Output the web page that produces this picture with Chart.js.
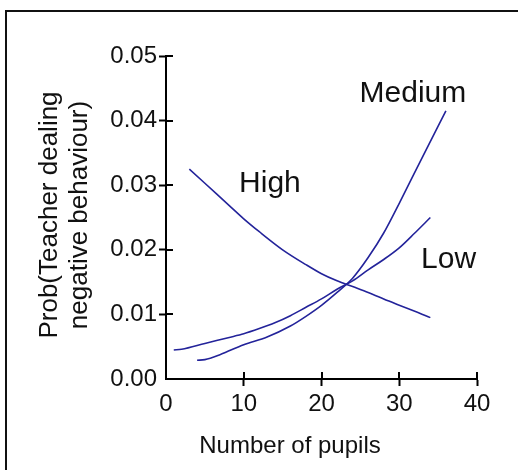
<!DOCTYPE html>
<html>
<head>
<meta charset="utf-8">
<script src="https://cdn.jsdelivr.net/npm/chart.js@4/dist/chart.umd.min.js"></script>
<style>
  html, body { margin: 0; padding: 0; background: #fff; }
  #chart { display: block; }
</style>
</head>
<body>
<canvas id="chart" width="518" height="470"></canvas>
<script>
// values (x = number of pupils, y = probability)
const highX = [3, 5, 8, 10, 12, 15, 18, 20, 22, 24, 26, 28, 30, 32, 34];
const highY = [0.0325, 0.0303, 0.0270, 0.0248, 0.0228, 0.0200, 0.0177, 0.0163, 0.0152, 0.0143, 0.0134, 0.0124, 0.0114, 0.0105, 0.0095];

const mediumX = [4, 5, 7, 10, 13, 16, 18, 20, 22, 24, 26, 28, 30, 33, 36];
const mediumY = [0.0029, 0.0030, 0.0038, 0.0053, 0.0065, 0.0082, 0.0097, 0.0114, 0.0134, 0.0156, 0.0188, 0.0226, 0.0272, 0.0344, 0.0415];

const lowX = [1, 2, 5, 8, 10, 12, 14, 16, 18, 20, 22, 24, 26, 28, 30, 32, 34];
const lowY = [0.0045, 0.0046, 0.0055, 0.0064, 0.0070, 0.0078, 0.0087, 0.0098, 0.0111, 0.0124, 0.0139, 0.0152, 0.0169, 0.0185, 0.0203, 0.0226, 0.0250];

const seriesNames = ['High', 'Medium', 'Low'];
const xTitle = 'Number of pupils';
const yTitle = ['Prob(Teacher dealing', 'negative behaviour)'];

const lineColor = '#23239a';
const font = 'Liberation Sans, Arial, sans-serif';

const toPoints = (xs, ys) => xs.map((x, i) => ({ x, y: ys[i] }));

const series = [
  { label: seriesNames[0], data: toPoints(highX, highY) },
  { label: seriesNames[1], data: toPoints(mediumX, mediumY) },
  { label: seriesNames[2], data: toPoints(lowX, lowY) }
];

// where each curve's name sits, in data units (left edge, baseline)
const nameSpots = [
  { x: 9.4, y: 0.0289 },
  { x: 24.9, y: 0.0429 },
  { x: 32.8, y: 0.0172 }
];

const hideZero = (ctx) => (ctx.tick && ctx.tick.value === 0 ? 'rgba(0,0,0,0)' : '#000');

const decorations = {
  id: 'decorations',
  beforeDraw(chart) {
    const c = chart.ctx;
    c.save();
    c.strokeStyle = '#111';
    c.lineWidth = 2;
    c.strokeRect(6, 11, 700, 700);
    c.restore();
  },
  afterDraw(chart) {
    const c = chart.ctx;
    const xs = chart.scales.x;
    const ys = chart.scales.y;
    c.save();

    // inner half of the tick marks (they cross the axes)
    c.strokeStyle = '#000';
    c.lineWidth = 2;
    c.beginPath();
    ys.ticks.forEach((t) => {
      if (t.value === 0) return;
      const py = Math.round(ys.getPixelForValue(t.value));
      c.moveTo(xs.left, py);
      c.lineTo(xs.left + 7, py);
    });
    xs.ticks.forEach((t) => {
      if (t.value === 0) return;
      const px = Math.round(xs.getPixelForValue(t.value));
      c.moveTo(px, ys.bottom);
      c.lineTo(px, ys.bottom - 7);
    });
    c.stroke();

    c.fillStyle = '#111';
    c.textBaseline = 'alphabetic';

    // curve names
    c.font = '30px ' + font;
    c.textAlign = 'left';
    series.forEach((s, i) => {
      c.fillText(s.label, xs.getPixelForValue(nameSpots[i].x), ys.getPixelForValue(nameSpots[i].y));
    });

    // x title
    c.font = '24px ' + font;
    c.textAlign = 'center';
    c.fillText(xTitle, 290, 453);

    // y title, two rotated lines
    c.font = '26px ' + font;
    c.translate(57, 215);
    c.rotate(-Math.PI / 2);
    yTitle.forEach((line, i) => c.fillText(line, 0, i * 30));

    c.restore();
  }
};

new Chart(document.getElementById('chart'), {
  type: 'line',
  data: {
    datasets: series.map((s) => ({
      label: s.label,
      data: s.data,
      borderColor: lineColor,
      backgroundColor: lineColor,
      borderWidth: 1.6,
      pointRadius: 0,
      fill: false,
      cubicInterpolationMode: 'monotone'
    }))
  },
  options: {
    responsive: false,
    animation: false,
    layout: { padding: { top: 56, right: 41, left: 0, bottom: 0 } },
    plugins: {
      legend: { display: false },
      tooltip: { enabled: false }
    },
    scales: {
      x: {
        type: 'linear',
        min: 0,
        max: 40,
        afterFit: (scale) => { scale.height = 91; },
        border: { display: true, color: '#000', width: 2 },
        grid: { drawOnChartArea: false, drawTicks: true, tickLength: 7, tickWidth: 2, tickColor: hideZero },
        ticks: {
          stepSize: 10,
          padding: 4,
          color: '#111',
          font: { family: font, size: 24 },
          maxRotation: 0
        }
      },
      y: {
        type: 'linear',
        min: 0,
        max: 0.05,
        afterFit: (scale) => { scale.width = 166; },
        border: { display: true, color: '#000', width: 2 },
        grid: { drawOnChartArea: false, drawTicks: true, tickLength: 7, tickWidth: 2, tickColor: hideZero },
        ticks: {
          stepSize: 0.01,
          padding: 2,
          color: '#111',
          font: { family: font, size: 24 },
          callback: (v) => v.toFixed(2)
        }
      }
    }
  },
  plugins: [decorations]
});
</script>
</body>
</html>
